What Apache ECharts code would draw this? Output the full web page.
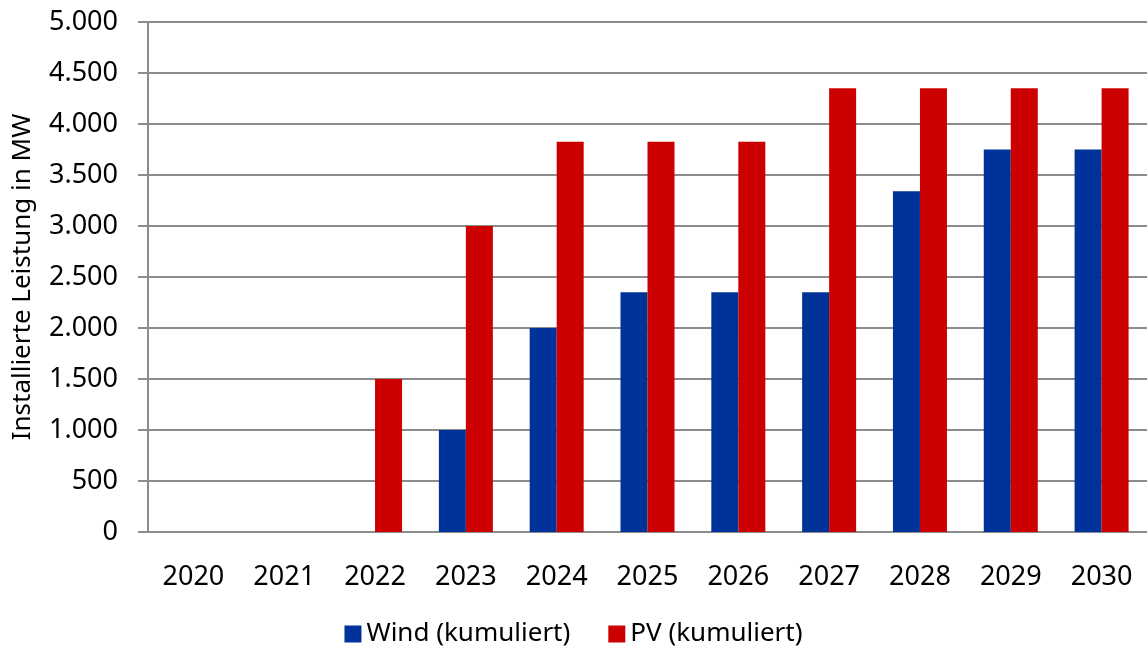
<!DOCTYPE html>
<html>
<head>
<meta charset="utf-8">
<script src="https://cdn.jsdelivr.net/npm/echarts@6/dist/echarts.min.js"></script>
<style>
  html, body { margin: 0; padding: 0; background: #fff; }
  #container { width: 1147px; height: 651px; }
</style>
</head>
<body>
<div id="container"></div>
<script>
var years = ['2020', '2021', '2022', '2023', '2024', '2025', '2026', '2027', '2028', '2029', '2030'];
var windValues = [0, 0, 0, 1000, 2000, 2350, 2350, 2350, 3340, 3750, 3750];
var pvValues = [0, 0, 1500, 3000, 3825, 3825, 3825, 4350, 4350, 4350, 4350];
var seriesNames = ['Wind (kumuliert)', 'PV (kumuliert)'];

var font = 'Noto Sans';
var gray = '#8c8c8c';

// 5000 -> "5.000"
function deNumber( v ) {
	return String( v ).replace( /\B(?=(\d{3})+(?!\d))/g, '.' );
}

var myChart = echarts.init( document.getElementById( 'container' ) );
var option = {
	animation: false,
	textStyle: { fontFamily: font },
	grid: { left: 148, right: 0, top: 22, bottom: 119 },
	legend: {
		data: seriesNames,
		bottom: -1,
		left: 'center',
		icon: 'rect',
		itemWidth: 17,
		itemHeight: 17,
		itemGap: 38,
		textStyle: { fontFamily: font, fontSize: 26, color: '#000' }
	},
	xAxis: {
		type: 'category',
		data: years,
		axisLine: { lineStyle: { color: gray, width: 2 } },
		axisTick: { length: 10, lineStyle: { color: gray, width: 2 } },
		axisLabel: { fontFamily: font, fontSize: 27, color: '#000', margin: 32 }
	},
	yAxis: {
		type: 'value',
		min: 0,
		max: 5000,
		interval: 500,
		name: 'Installierte Leistung in MW',
		nameLocation: 'middle',
		nameGap: 112,
		nameTextStyle: { fontFamily: font, fontSize: 26, color: '#000' },
		axisLine: { show: true, lineStyle: { color: gray, width: 2 } },
		axisTick: { show: true, length: 10, lineStyle: { color: gray, width: 2 } },
		splitLine: { lineStyle: { color: gray, width: 2 } },
		axisLabel: {
			fontFamily: font, fontSize: 27, color: '#000', margin: 30,
			formatter: function( v ) { return deNumber( v ); }
		}
	},
	series: [
		{
			name: seriesNames[0],
			type: 'bar',
			data: windValues,
			barWidth: 27,
			barGap: '0%',
			itemStyle: { color: '#003399' }
		}, {
			name: seriesNames[1],
			type: 'bar',
			data: pvValues,
			barWidth: 27,
			barGap: '0%',
			itemStyle: { color: '#cc0000' }
		}
	]
};
myChart.setOption( option );
</script>
</body>
</html>
